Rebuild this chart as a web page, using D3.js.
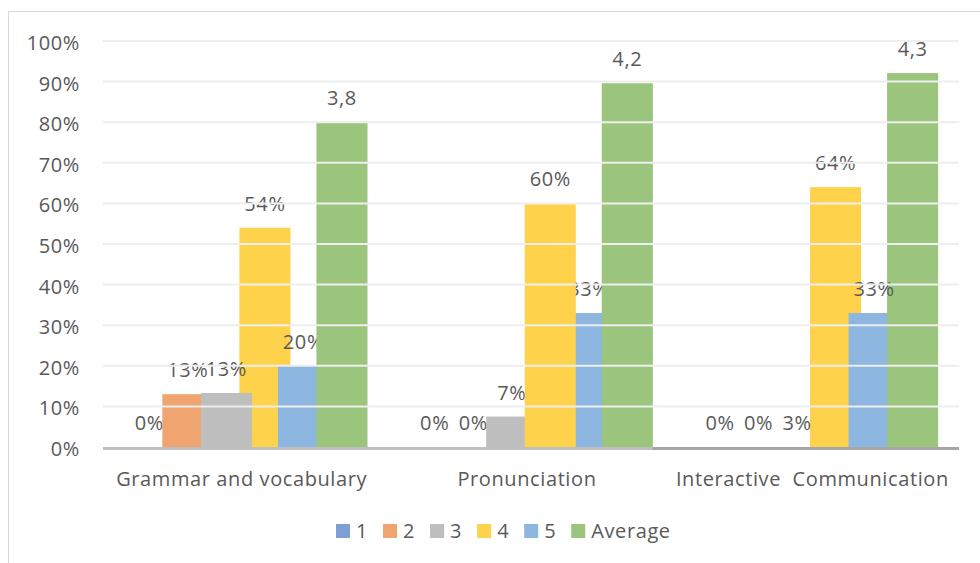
<!DOCTYPE html>
<html>
<head>
<meta charset="utf-8">
<script src="https://cdn.jsdelivr.net/npm/d3@7"></script>
<style>
  html, body { margin: 0; padding: 0; background: #fff; }
  svg { display: block; }
  text { font-family: "Open Sans", "Noto Sans", sans-serif; fill: #595959; white-space: pre; letter-spacing: 0.6px; }
</style>
</head>
<body>
<svg id="chart" width="980" height="563"></svg>
<script>
// ---- data ----
const categories = ["Grammar and vocabulary", "Pronunciation", "Interactive  Communication"];
const seriesNames = ["1", "2", "3", "4", "5", "Average"];
const series1 = [0, 0, 0];
const series2 = [0.13, 0, 0];
const series3 = [0.133, 0.075, 0];
const series4 = [0.54, 0.60, 0.64];
const series5 = [0.20, 0.33, 0.33];
const seriesAvg = [0.80, 0.896, 0.921];
const labels1 = ["0%", "0%", "0%"];
const labels2 = ["13%", "0%", "0%"];
const labels3 = ["13%", "7%", "3%"];
const labels4 = ["54%", "60%", "64%"];
const labels5 = ["20%", "33%", "33%"];
const labelsAvg = ["3,8", "4,2", "4,3"];
const yTickValues = [0, 0.1, 0.2, 0.3, 0.4, 0.5, 0.6, 0.7, 0.8, 0.9, 1.0];
const yTickLabels = ["0%", "10%", "20%", "30%", "40%", "50%", "60%", "70%", "80%", "90%", "100%"];

const allValues = [series1, series2, series3, series4, series5, seriesAvg];
const allLabels = [labels1, labels2, labels3, labels4, labels5, labelsAvg];
const colors = ["#7f9ed6", "#f0a46f", "#bebebe", "#ffd24c", "#8db6e0", "#9bc47c"];
// drawing order of the series inside each category, and whether labels go on top
const drawOrder = [[0, 1, 3, 2, 4, 5], [0, 1, 2, 4, 3, 5], [0, 1, 2, 3, 4, 5]];
const labelsOnTop = [false, false, true];

// ---- layout ----
const svg = d3.select("#chart");
const plot = { left: 103, right: 959, top: 41, bottom: 447 };
const FS = 20;

svg.append("rect").attr("x", 8.5).attr("y", 11.5).attr("width", 985).attr("height", 570)
  .attr("fill", "#fff").attr("stroke", "#d9d9d9").attr("stroke-width", 1);

const x = d3.scaleBand().domain(categories).range([plot.left, plot.right]).paddingInner(0).paddingOuter(0);
const y = d3.scaleLinear().domain([0, 1]).range([plot.bottom, plot.top]);
const bw = x.bandwidth();
const barW = bw * 0.179;
const sub = d3.scaleLinear().domain([0, 5]).range([-bw * 0.3375, bw * 0.3375]);

// bars + labels
const gBars = svg.append("g");
const gTopLabels = svg.append("g");
categories.forEach((cat, ci) => {
  const cx = x(cat) + bw / 2;
  drawOrder[ci].forEach(si => {
    const v = allValues[si][ci];
    const bx = cx + sub(si) - barW / 2;
    gBars.append("rect")
      .attr("x", bx).attr("y", y(v))
      .attr("width", barW).attr("height", y(0) - y(v))
      .attr("fill", colors[si]);
    (labelsOnTop[ci] ? gTopLabels : gBars).append("text")
      .attr("x", cx + sub(si)).attr("y", y(v) - 17)
      .attr("text-anchor", "middle")
      .attr("font-size", FS)
      .text(allLabels[si][ci]);
  });
});
gTopLabels.raise();

// gridlines (drawn over bars)
const gGrid = svg.append("g");
gGrid.selectAll("line").data(yTickValues.filter(d => d > 0)).join("line")
  .attr("x1", plot.left).attr("x2", plot.right)
  .attr("y1", d => y(d)).attr("y2", d => y(d))
  .attr("stroke", "#eeeeee").attr("stroke-width", 2);

// axis line
svg.append("line").attr("x1", plot.left).attr("x2", plot.right)
  .attr("y1", y(0) + 1.5).attr("y2", y(0) + 1.5)
  .attr("stroke", "#bfbfbf").attr("stroke-width", 3);
{
  const c2 = categories[1];
  const endBar = x(c2) + bw / 2 + sub(5) + barW / 2;
  svg.append("line").attr("x1", endBar).attr("x2", plot.right)
    .attr("y1", y(0) + 1.5).attr("y2", y(0) + 1.5)
    .attr("stroke", "#a6a6a6").attr("stroke-width", 3);
}

// y axis labels
const yAxis = d3.axisLeft(y).tickValues(yTickValues)
  .tickFormat((d, i) => yTickLabels[i]).tickSize(0).tickPadding(0);
const gy = svg.append("g").attr("transform", "translate(80,0)").call(yAxis);
gy.select(".domain").remove();
gy.selectAll("text").attr("font-size", FS).attr("font-family", null).attr("fill", "#595959").attr("dy", "0.42em");

// x axis labels
const xAxis = d3.axisBottom(x).tickSize(0).tickPadding(0);
const gx = svg.append("g").attr("transform", `translate(-4,${y(0) + 39})`).call(xAxis);
gx.select(".domain").remove();
gx.selectAll("text").attr("font-size", FS).attr("font-family", null).attr("fill", "#595959").attr("dy", 0);

// legend
const gLeg = svg.append("g").attr("transform", "translate(336,524)");
let lx = 0;
seriesNames.forEach((name, i) => {
  gLeg.append("rect").attr("x", lx).attr("y", 0).attr("width", 14).attr("height", 14).attr("fill", colors[i]);
  const t = gLeg.append("text").attr("x", lx + 20).attr("y", 14).attr("font-size", FS).text(name);
  lx += 20 + t.node().getComputedTextLength() + 15;
});
</script>
</body>
</html>
